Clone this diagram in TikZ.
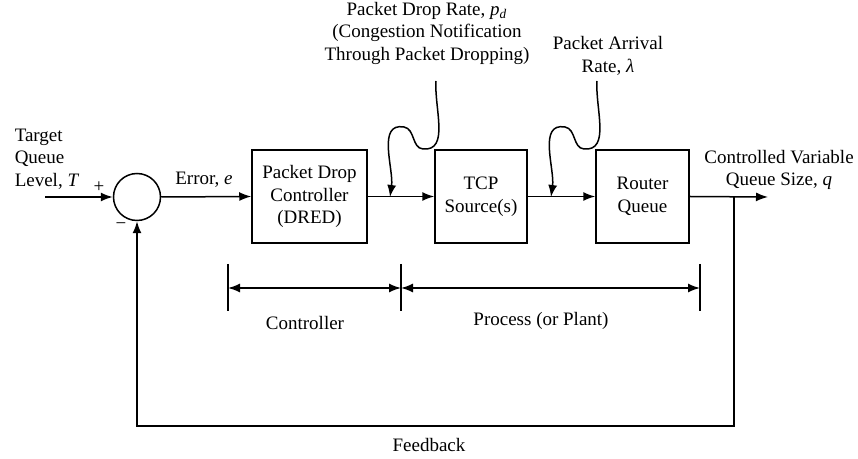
\documentclass[tikz,border=0pt]{standalone}
\usepackage{fontspec}
\setmainfont{LiberationSerif-Regular.ttf}[
  ItalicFont=LiberationSerif-Italic.ttf,
  BoldFont=LiberationSerif-Bold.ttf,
  BoldItalicFont=LiberationSerif-BoldItalic.ttf]
\usetikzlibrary{arrows.meta}

\begin{document}
\begin{tikzpicture}[x=0.5pt, y=-0.5pt,
  font=\rmfamily\fontsize{9.5}{11.25}\selectfont,
  line width=0.75pt,
  >={Latex[length=6pt,width=4.5pt]},
  blk/.style={draw, minimum width=#1, minimum height=46.5pt, align=center, inner sep=0pt},
  lbl/.style={align=center, inner sep=0pt},
  tick/.style={line width=0.75pt}]
\useasboundingbox (0,0) rectangle (858,459);

% summing junction
\node[draw, circle, minimum size=23.5pt, inner sep=0pt] (sum) at (137,197) {};
\coordinate (in) at (45,197);

% blocks
\node[blk=57.5pt] (ctrl) at (309.5,196.5) {Packet Drop\\Controller\\(DRED)};
\node[blk=46pt]   (tcp)  at (481,196.5)   {TCP\\Source(s)};
\node[blk=46.5pt] (rq)   at (642.5,196.5) {Router\\Queue};

% output and feedback path
\coordinate (out) at (768,197);
\coordinate (jn)  at (734,197);
\coordinate (fbr) at (734,426);
\coordinate (fbl) at (137,426);

% forward path
\draw[->] (in) -- (sum.west);
\draw[->] (sum.east) -- (ctrl.west);
\draw[->] (ctrl.east) -- (tcp.west);
\draw[->] (tcp.east) -- (rq.west);
\draw[->] (rq.east) -- (out);
\draw[->] (jn) -- (fbr) -- (fbl) -- (sum.south);

% disturbance inputs
\coordinate (pd0)  at (436,81);
\coordinate (pdv)  at (423,149);
\coordinate (pdp)  at (404,127);
\coordinate (pdt)  at (390,197);
\draw[->] (pd0) to[out=-94,in=-5] (pdv) to[out=175,in=-10] (pdp) to[out=170,in=82] (pdt);

\coordinate (la0)  at (597,81);
\coordinate (lav)  at (584,149);
\coordinate (lap)  at (565,127);
\coordinate (lat)  at (551,197);
\draw[->] (la0) to[out=-94,in=-5] (lav) to[out=175,in=-10] (lap) to[out=170,in=82] (lat);

% signal labels
\node[lbl, align=left, anchor=west] (tq) at (14,159) {Target\\Queue\\Level, \textit{T}};
\node[lbl] (plus)  at (99,187) {+};
\node[lbl] (minus) at (121,226) {−};
\node[lbl] (err)   at (204,180) {Error, \textit{e}};
\node[lbl] (pdl)   at (427,33)  {Packet Drop Rate, \textit{p}\textsubscript{\textit{d}}\\(Congestion Notification\\Through Packet Dropping)};
\node[lbl] (lal)   at (608,56)  {Packet Arrival\\Rate, \textit{λ}};
\node[lbl] (qsl)   at (779,170) {Controlled Variable\\Queue Size, \textit{q}};

% extents of controller and process
\coordinate (d1t) at (228,264); \coordinate (d1b) at (228,311);
\coordinate (d2t) at (401,264); \coordinate (d2b) at (401,311);
\coordinate (d3t) at (700,264); \coordinate (d3b) at (700,311);
\draw[tick] (d1t) -- (d1b);
\draw[tick] (d2t) -- (d2b);
\draw[tick] (d3t) -- (d3b);
\coordinate (a1) at (228,288);
\coordinate (a2) at (401,288);
\coordinate (a3) at (700,288);
\draw[<->] (a1) -- (a2);
\draw[<->] (a2) -- (a3);

\node[lbl] (cl) at (305,323) {Controller};
\node[lbl] (pl) at (541,321) {Process (or Plant)};
\node[lbl] (fl) at (429,445) {Feedback};
\end{tikzpicture}
\end{document}
